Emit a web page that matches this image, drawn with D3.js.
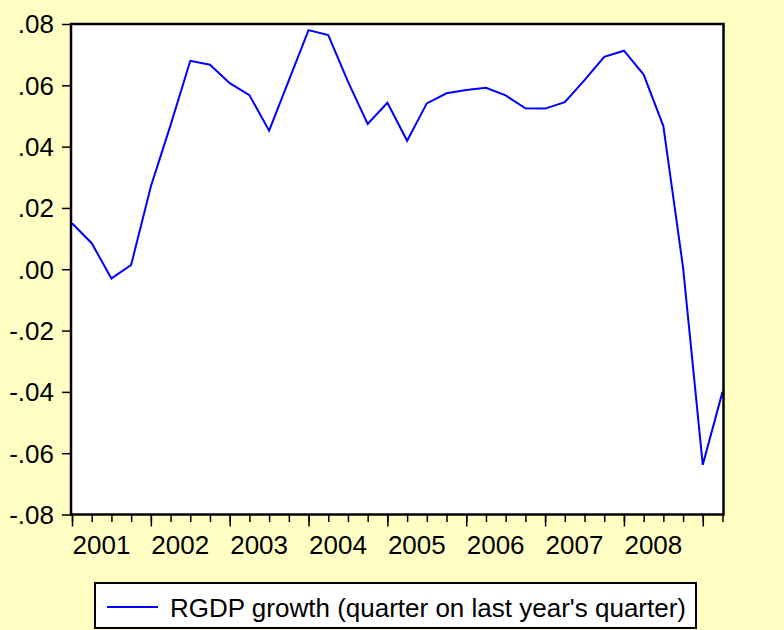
<!DOCTYPE html>
<html>
<head>
<meta charset="utf-8">
<script src="https://cdn.jsdelivr.net/npm/d3@7"></script>
<style>
  html, body { margin: 0; padding: 0; background: #FFFFC4; }
  svg { display: block; }
  text { font-family: "Liberation Sans", Arial, sans-serif; }
</style>
</head>
<body>
<div id="chart"></div>
<script>
// quarters 2001Q1 .. 2009Q2
var quarters = [
  "2001Q1","2001Q2","2001Q3","2001Q4",
  "2002Q1","2002Q2","2002Q3","2002Q4",
  "2003Q1","2003Q2","2003Q3","2003Q4",
  "2004Q1","2004Q2","2004Q3","2004Q4",
  "2005Q1","2005Q2","2005Q3","2005Q4",
  "2006Q1","2006Q2","2006Q3","2006Q4",
  "2007Q1","2007Q2","2007Q3","2007Q4",
  "2008Q1","2008Q2","2008Q3","2008Q4",
  "2009Q1","2009Q2"
];
// RGDP growth, quarter on same quarter of last year
var growth = [
  0.0150, 0.0085, -0.0030, 0.0014,
  0.0270, 0.0470, 0.0680, 0.0667,
  0.0607, 0.0568, 0.0452, 0.0616,
  0.0780, 0.0764, 0.0612, 0.0474,
  0.0543, 0.0419, 0.0541, 0.0574,
  0.0585, 0.0592, 0.0567, 0.0525,
  0.0524, 0.0545, 0.0617, 0.0693,
  0.0713, 0.0635, 0.0467, 0.0005,
  -0.0638, -0.0400
];
var yTicks = [0.08, 0.06, 0.04, 0.02, 0.00, -0.02, -0.04, -0.06, -0.08];
var yearTicks = ["2001Q1","2002Q1","2003Q1","2004Q1","2005Q1","2006Q1","2007Q1","2008Q1","2009Q1"];
var yearLabels = ["2001","2002","2003","2004","2005","2006","2007","2008",""];
var legendLabel = "RGDP growth (quarter on last year's quarter)";

var W = 784, H = 630;
var plot = {left: 71, top: 24, right: 723.5, bottom: 514.5};
var fontSize = "26px";

var svg = d3.select("#chart")
  .append("svg")
    .attr("width", W)
    .attr("height", H);

svg.append("rect")
  .attr("width", W).attr("height", H)
  .attr("fill", "#FFFFC4");

// plot area
svg.append("rect")
  .attr("x", plot.left).attr("y", plot.top)
  .attr("width", plot.right - plot.left)
  .attr("height", plot.bottom - plot.top)
  .attr("fill", "#ffffff");

var x = d3.scalePoint()
  .domain(quarters)
  .range([72, 722.5]);

var y = d3.scaleLinear()
  .domain([-0.08, 0.08])
  .range([plot.bottom, plot.top]);

function fmt(v) {
  var s = Math.abs(v).toFixed(2).replace(/^0/, "");
  return (v < -1e-9 ? "-" : "") + s;
}

// Y axis
var yAxis = svg.append("g")
  .attr("transform", "translate(" + plot.left + ",0)")
  .call(d3.axisLeft(y).tickValues(yTicks).tickFormat(fmt).tickSize(9).tickPadding(8));
yAxis.select(".domain").remove();
yAxis.selectAll("line").attr("stroke", "#000").attr("stroke-width", 1.5);
yAxis.selectAll("text")
  .attr("fill", "#000")
  .style("font-size", fontSize)
  .attr("dy", "0.34em");

// X axis minor ticks (quarters)
var xMinor = svg.append("g")
  .attr("transform", "translate(0," + plot.bottom + ")")
  .call(d3.axisBottom(x).tickSize(7.5).tickFormat(""));
xMinor.select(".domain").remove();
xMinor.selectAll("line").attr("stroke", "#000").attr("stroke-width", 1.5);

// X axis major ticks (years)
var xMajor = svg.append("g")
  .attr("transform", "translate(0," + plot.bottom + ")")
  .call(d3.axisBottom(x).tickValues(yearTicks).tickSize(12)
        .tickFormat(function(d, i) { return yearLabels[i]; }));
xMajor.select(".domain").remove();
xMajor.selectAll("line").attr("stroke", "#000").attr("stroke-width", 1.5);
xMajor.selectAll("text")
  .attr("fill", "#000")
  .style("font-size", fontSize)
  .style("text-anchor", "start")
  .attr("x", 0)
  .attr("y", 39.5)
  .attr("dy", 0);

// the series
var line = d3.line()
  .x(function(d, i) { return x(quarters[i]); })
  .y(function(d) { return y(d); });

svg.append("path")
  .datum(growth)
  .attr("d", line)
  .attr("fill", "none")
  .attr("stroke", "#0000FF")
  .attr("stroke-width", 2)
  .attr("stroke-linejoin", "miter");

// frame
svg.append("rect")
  .attr("x", plot.left).attr("y", plot.top)
  .attr("width", plot.right - plot.left)
  .attr("height", plot.bottom - plot.top)
  .attr("fill", "none")
  .attr("stroke", "#000")
  .attr("stroke-width", 2.5);

// legend
var legend = svg.append("g");
legend.append("rect")
  .attr("x", 95).attr("y", 583)
  .attr("width", 601).attr("height", 45)
  .attr("fill", "#ffffff")
  .attr("stroke", "#000")
  .attr("stroke-width", 2);
legend.append("line")
  .attr("x1", 107).attr("x2", 158)
  .attr("y1", 607).attr("y2", 607)
  .attr("stroke", "#0000FF")
  .attr("stroke-width", 2);
legend.append("text")
  .attr("x", 170).attr("y", 617)
  .style("font-size", fontSize)
  .attr("fill", "#000")
  .text(legendLabel);
</script>
</body>
</html>
